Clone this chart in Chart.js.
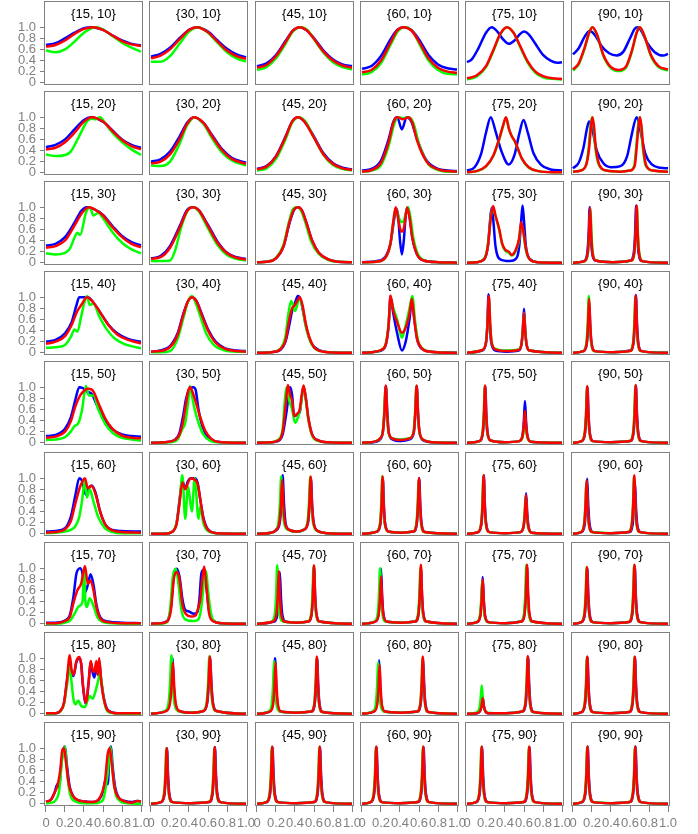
<!DOCTYPE html>
<html>
<head>
<meta charset="utf-8">
<script src="https://cdn.jsdelivr.net/npm/chart.js@4"></script>
<style>
  body { margin: 0; background: #fff; }
  #grid { position: relative; width: 698px; height: 834px; overflow: hidden; }
  #grid canvas { position: absolute; }
</style>
</head>
<body>
<div id="grid"></div>
<script>
var colAngles = [15, 30, 45, 60, 75, 90];
var rowAngles = [10, 20, 30, 40, 50, 60, 70, 80, 90];
var xTicks = [0, 0.2, 0.4, 0.6, 0.8, 1];
var xTickLabels = ["0", "0.2", "0.4", "0.6", "0.8", "1.0"];
var yTicks = [0, 0.2, 0.4, 0.6, 0.8, 1];
var yTickLabels = ["0", "0.2", "0.4", "0.6", "0.8", "1.0"];

// curves, one entry per panel, row by row: [x, y] pairs
var blueCurves = [
  // {15, 10}
  [[0,0.68],[0.1,0.71],[0.2,0.8],[0.3,0.9],[0.4,0.98],[0.48,1],[0.6,0.95],[0.7,0.85],[0.8,0.76],[0.9,0.7],[1,0.67]],
  // {30, 10}
  [[0,0.47],[0.1,0.52],[0.2,0.63],[0.3,0.8],[0.4,0.95],[0.48,1],[0.6,0.92],[0.7,0.76],[0.8,0.61],[0.9,0.51],[1,0.46]],
  // {45, 10}
  [[0,0.3],[0.1,0.35],[0.2,0.5],[0.3,0.75],[0.38,0.94],[0.45,1],[0.52,0.95],[0.6,0.8],[0.7,0.58],[0.8,0.42],[0.9,0.33],[1,0.3]],
  // {60, 10}
  [[0,0.25],[0.1,0.3],[0.2,0.48],[0.3,0.78],[0.37,0.95],[0.44,1],[0.52,0.95],[0.6,0.78],[0.7,0.5],[0.8,0.33],[0.9,0.26],[1,0.24]],
  // {75, 10}
  [[0,0.37],[0.05,0.42],[0.12,0.62],[0.2,0.9],[0.26,1],[0.32,0.92],[0.38,0.78],[0.44,0.7],[0.5,0.76],[0.56,0.88],[0.6,0.92],[0.65,0.87],[0.72,0.7],[0.8,0.5],[0.88,0.4],[0.95,0.36],[1,0.37]],
  // {90, 10}
  [[0,0.51],[0.06,0.62],[0.12,0.82],[0.175,0.93],[0.23,0.86],[0.3,0.66],[0.38,0.53],[0.46,0.49],[0.53,0.56],[0.6,0.8],[0.65,0.97],[0.68,1],[0.72,0.93],[0.78,0.72],[0.86,0.55],[0.95,0.49],[1,0.52]],
  // {15, 20}
  [[0,0.46],[0.1,0.5],[0.2,0.6],[0.3,0.78],[0.4,0.95],[0.47,1],[0.6,0.92],[0.7,0.76],[0.8,0.6],[0.9,0.5],[1,0.45]],
  // {30, 20}
  [[0,0.2],[0.1,0.24],[0.2,0.38],[0.3,0.65],[0.38,0.9],[0.45,1],[0.55,0.9],[0.65,0.66],[0.75,0.42],[0.85,0.27],[1,0.18]],
  // {45, 20}
  [[0,0.07],[0.1,0.12],[0.2,0.3],[0.3,0.65],[0.37,0.92],[0.43,1],[0.5,0.92],[0.6,0.65],[0.7,0.35],[0.8,0.17],[0.9,0.09],[1,0.06]],
  // {60, 20}
  [[0,0.04],[0.1,0.07],[0.2,0.22],[0.28,0.6],[0.33,0.92],[0.37,1],[0.42,0.78],[0.47,1],[0.52,0.92],[0.58,0.6],[0.68,0.22],[0.8,0.07],[0.9,0.04],[1,0.03]],
  // {75, 20}
  [[0,0.04],[0.08,0.1],[0.15,0.35],[0.2,0.72],[0.25,1],[0.3,0.75],[0.36,0.4],[0.44,0.15],[0.5,0.32],[0.55,0.7],[0.595,0.95],[0.64,0.72],[0.7,0.35],[0.78,0.14],[0.88,0.06],[1,0.04]],
  // {90, 20}
  [[0,0.08],[0.06,0.18],[0.11,0.45],[0.15,0.82],[0.17,0.92],[0.2,0.8],[0.25,0.4],[0.32,0.17],[0.4,0.1],[0.5,0.12],[0.57,0.3],[0.62,0.7],[0.67,1],[0.71,0.75],[0.76,0.35],[0.83,0.15],[0.92,0.09],[1,0.08]],
  // {15, 30}
  [[0,0.31],[0.1,0.34],[0.2,0.46],[0.3,0.72],[0.37,0.93],[0.43,1],[0.5,0.97],[0.6,0.86],[0.7,0.66],[0.8,0.48],[0.9,0.37],[1,0.31]],
  // {30, 30}
  [[0,0.08],[0.1,0.12],[0.2,0.3],[0.3,0.65],[0.38,0.95],[0.44,1],[0.5,0.95],[0.6,0.68],[0.7,0.38],[0.8,0.18],[0.9,0.1],[1,0.07]],
  // {45, 30}
  [[0,0.01],[0.1,0.02],[0.2,0.08],[0.28,0.3],[0.34,0.7],[0.39,0.95],[0.43,1],[0.47,0.95],[0.52,0.72],[0.58,0.4],[0.65,0.18],[0.75,0.06],[0.85,0.02],[1,0.01]],
  // {60, 30}
  [[0,0.01],[0.15,0.03],[0.25,0.12],[0.3,0.35],[0.34,0.8],[0.36,0.97],[0.38,0.85],[0.4,0.4],[0.42,0.15],[0.44,0.4],[0.46,0.85],[0.48,1],[0.5,0.85],[0.53,0.45],[0.58,0.15],[0.65,0.04],[0.8,0.01],[1,0]],
  // {75, 30}
  [[0,0],[0.1,0.01],[0.18,0.06],[0.22,0.3],[0.245,0.8],[0.26,0.99],[0.275,0.8],[0.3,0.3],[0.35,0.06],[0.45,0.03],[0.52,0.08],[0.55,0.3],[0.57,0.75],[0.585,1.03],[0.6,0.75],[0.62,0.3],[0.66,0.07],[0.75,0.01],[1,0]],
  // {90, 30}
  [[0,0],[0.116,0.03],[0.151,0.18],[0.164,0.5],[0.176,1.0],[0.188,0.5],[0.201,0.18],[0.236,0.04],[0.42,0.01],[0.605,0.04],[0.64,0.18],[0.653,0.5],[0.665,1.03],[0.677,0.5],[0.69,0.18],[0.725,0.03],[1,0]],
  // {15, 40}
  [[0,0.2],[0.1,0.23],[0.2,0.35],[0.27,0.55],[0.32,0.85],[0.35,1],[0.44,1],[0.5,0.9],[0.58,0.7],[0.66,0.5],[0.75,0.35],[0.85,0.26],[0.95,0.21],[1,0.2]],
  // {30, 40}
  [[0,0.02],[0.1,0.04],[0.2,0.12],[0.28,0.35],[0.34,0.7],[0.39,0.93],[0.43,1],[0.48,0.93],[0.53,0.72],[0.6,0.42],[0.68,0.2],[0.78,0.08],[0.9,0.04],[1,0.03]],
  // {45, 40}
  [[0,0],[0.15,0.01],[0.25,0.06],[0.3,0.2],[0.34,0.5],[0.37,0.75],[0.4,0.9],[0.43,1.02],[0.46,0.95],[0.49,0.7],[0.53,0.38],[0.58,0.15],[0.65,0.05],[0.75,0.01],[1,0]],
  // {60, 40}
  [[0,0],[0.1,0.01],[0.2,0.04],[0.25,0.14],[0.28,0.48],[0.3,1.0],[0.33,0.7],[0.37,0.35],[0.42,0.04],[0.46,0.2],[0.5,0.6],[0.525,0.93],[0.55,0.62],[0.58,0.25],[0.63,0.07],[0.72,0.02],[1,0]],
  // {75, 40}
  [[0,0],[0.16,0.04],[0.2,0.18],[0.214,0.5],[0.227,1.05],[0.24,0.5],[0.255,0.18],[0.3,0.04],[0.42,0.02],[0.54,0.04],[0.573,0.15],[0.587,0.4],[0.6,0.79],[0.613,0.4],[0.627,0.15],[0.66,0.04],[1,0]],
  // {90, 40}
  [[0,0],[0.11,0.03],[0.145,0.16],[0.158,0.45],[0.17,0.9],[0.182,0.45],[0.195,0.16],[0.23,0.03],[0.42,0.01],[0.602,0.04],[0.637,0.18],[0.65,0.52],[0.662,1.04],[0.674,0.52],[0.687,0.18],[0.722,0.03],[1,0]],
  // {15, 50}
  [[0,0.12],[0.1,0.14],[0.2,0.25],[0.26,0.45],[0.31,0.78],[0.35,1],[0.39,0.98],[0.43,0.92],[0.48,0.88],[0.53,0.7],[0.6,0.46],[0.7,0.24],[0.8,0.15],[0.9,0.12],[1,0.11]],
  // {30, 50}
  [[0,0],[0.15,0.01],[0.25,0.05],[0.3,0.18],[0.34,0.5],[0.37,0.8],[0.41,0.98],[0.445,1],[0.47,0.95],[0.5,0.6],[0.54,0.3],[0.6,0.1],[0.7,0.02],[1,0]],
  // {45, 50}
  [[0,0],[0.15,0.01],[0.22,0.03],[0.27,0.15],[0.31,0.55],[0.35,1.0],[0.37,0.85],[0.39,0.48],[0.42,0.5],[0.45,0.55],[0.47,0.8],[0.49,1.0],[0.51,0.85],[0.54,0.45],[0.58,0.15],[0.65,0.04],[0.75,0.01],[1,0]],
  // {60, 50}
  [[0,0],[0.15,0.02],[0.19,0.06],[0.22,0.2],[0.236,0.52],[0.252,1.02],[0.267,0.52],[0.282,0.18],[0.32,0.06],[0.41,0.03],[0.5,0.06],[0.545,0.18],[0.561,0.5],[0.576,1.02],[0.591,0.5],[0.606,0.18],[0.65,0.04],[0.75,0.01],[1,0]],
  // {75, 50}
  [[0,0],[0.13,0.03],[0.167,0.18],[0.18,0.5],[0.192,1.02],[0.204,0.5],[0.217,0.18],[0.25,0.04],[0.4,0.01],[0.55,0.03],[0.585,0.14],[0.598,0.38],[0.61,0.75],[0.622,0.38],[0.635,0.14],[0.67,0.02],[1,0]],
  // {90, 50}
  [[0,0],[0.092,0.03],[0.127,0.18],[0.14,0.5],[0.152,1.0],[0.164,0.5],[0.177,0.18],[0.212,0.03],[0.4,0.01],[0.602,0.03],[0.637,0.18],[0.65,0.5],[0.662,1.03],[0.674,0.5],[0.687,0.18],[0.722,0.03],[1,0]],
  // {15, 60}
  [[0,0.04],[0.1,0.05],[0.2,0.1],[0.26,0.3],[0.31,0.7],[0.35,1],[0.38,0.95],[0.42,0.7],[0.45,0.82],[0.48,0.87],[0.52,0.75],[0.57,0.4],[0.63,0.15],[0.7,0.07],[0.8,0.05],[1,0.04]],
  // {30, 60}
  [[0,0],[0.15,0],[0.22,0.03],[0.27,0.2],[0.3,0.6],[0.33,0.95],[0.36,0.82],[0.39,0.95],[0.42,1],[0.46,1],[0.49,0.92],[0.52,0.6],[0.55,0.3],[0.6,0.08],[0.7,0.01],[1,0]],
  // {45, 60}
  [[0,0],[0.15,0.02],[0.2,0.06],[0.24,0.2],[0.256,0.55],[0.27,1.05],[0.284,0.55],[0.3,0.2],[0.34,0.07],[0.42,0.04],[0.49,0.07],[0.537,0.2],[0.553,0.5],[0.567,1.0],[0.581,0.5],[0.597,0.2],[0.64,0.05],[0.75,0.01],[1,0]],
  // {60, 60}
  [[0,0],[0.159,0.04],[0.194,0.18],[0.207,0.5],[0.219,1.0],[0.231,0.5],[0.244,0.18],[0.28,0.04],[0.41,0.02],[0.542,0.04],[0.577,0.18],[0.59,0.5],[0.602,1.0],[0.614,0.5],[0.627,0.18],[0.662,0.03],[1,0]],
  // {75, 60}
  [[0,0],[0.117,0.03],[0.152,0.18],[0.165,0.5],[0.177,1.05],[0.189,0.5],[0.202,0.18],[0.237,0.03],[0.4,0.01],[0.562,0.03],[0.597,0.14],[0.61,0.37],[0.622,0.73],[0.634,0.37],[0.647,0.14],[0.682,0.02],[1,0]],
  // {90, 60}
  [[0,0],[0.089,0.03],[0.124,0.18],[0.137,0.5],[0.149,0.99],[0.161,0.5],[0.174,0.18],[0.209,0.03],[0.4,0.01],[0.592,0.03],[0.627,0.16],[0.64,0.45],[0.652,0.93],[0.664,0.45],[0.677,0.16],[0.712,0.03],[1,0]],
  // {15, 70}
  [[0,0.02],[0.1,0.02],[0.2,0.06],[0.25,0.15],[0.29,0.5],[0.32,0.9],[0.36,1.0],[0.39,0.85],[0.41,0.56],[0.44,0.7],[0.47,0.89],[0.5,0.7],[0.53,0.35],[0.57,0.12],[0.65,0.04],[0.8,0.02],[1,0.01]],
  // {30, 70}
  [[0,0],[0.1,0.01],[0.17,0.05],[0.21,0.3],[0.24,0.85],[0.27,0.99],[0.3,0.85],[0.33,0.45],[0.36,0.25],[0.4,0.22],[0.45,0.18],[0.49,0.22],[0.51,0.45],[0.53,0.9],[0.555,0.97],[0.58,0.7],[0.61,0.25],[0.65,0.06],[0.75,0.01],[1,0]],
  // {45, 70}
  [[0,0],[0.18,0.04],[0.215,0.18],[0.228,0.48],[0.24,0.93],[0.252,0.48],[0.265,0.18],[0.3,0.04],[0.42,0.02],[0.54,0.04],[0.575,0.18],[0.588,0.5],[0.6,1.02],[0.612,0.5],[0.625,0.18],[0.66,0.04],[1,0]],
  // {60, 70}
  [[0,0],[0.14,0.04],[0.175,0.18],[0.188,0.5],[0.2,0.99],[0.212,0.5],[0.225,0.18],[0.26,0.04],[0.41,0.02],[0.56,0.04],[0.595,0.18],[0.608,0.5],[0.62,1.0],[0.632,0.5],[0.645,0.18],[0.68,0.04],[1,0]],
  // {75, 70}
  [[0,0],[0.105,0.03],[0.14,0.15],[0.153,0.42],[0.165,0.84],[0.177,0.42],[0.19,0.15],[0.225,0.03],[0.4,0.01],[0.57,0.04],[0.605,0.18],[0.618,0.52],[0.63,1.04],[0.642,0.52],[0.655,0.18],[0.69,0.04],[1,0]],
  // {90, 70}
  [[0,0],[0.09,0.03],[0.125,0.18],[0.138,0.5],[0.15,1.0],[0.162,0.5],[0.175,0.18],[0.21,0.03],[0.4,0.01],[0.59,0.03],[0.625,0.18],[0.638,0.5],[0.65,1.04],[0.662,0.5],[0.675,0.18],[0.71,0.03],[1,0]],
  // {15, 80}
  [[0,0.01],[0.1,0.01],[0.15,0.05],[0.19,0.2],[0.22,0.58],[0.25,0.92],[0.27,0.72],[0.29,0.68],[0.32,0.93],[0.35,1.0],[0.37,0.9],[0.39,0.48],[0.42,0.18],[0.45,0.58],[0.47,0.93],[0.49,0.75],[0.51,0.65],[0.53,0.9],[0.545,0.7],[0.56,0.95],[0.58,0.62],[0.61,0.28],[0.65,0.07],[0.75,0.01],[1,0.01]],
  // {30, 80}
  [[0,0],[0.155,0.05],[0.195,0.2],[0.21,0.5],[0.225,1.0],[0.24,0.5],[0.255,0.2],[0.295,0.05],[0.42,0.02],[0.552,0.05],[0.592,0.2],[0.607,0.5],[0.622,1.0],[0.637,0.5],[0.652,0.2],[0.692,0.05],[1,0]],
  // {45, 80}
  [[0,0],[0.13,0.04],[0.165,0.18],[0.178,0.5],[0.19,1.0],[0.202,0.5],[0.215,0.18],[0.25,0.04],[0.41,0.02],[0.573,0.04],[0.608,0.18],[0.621,0.5],[0.633,1.0],[0.645,0.5],[0.658,0.18],[0.693,0.03],[1,0]],
  // {60, 80}
  [[0,0],[0.12,0.04],[0.155,0.17],[0.168,0.48],[0.18,0.96],[0.192,0.48],[0.205,0.17],[0.24,0.04],[0.41,0.02],[0.583,0.04],[0.618,0.18],[0.631,0.49],[0.643,0.98],[0.655,0.49],[0.668,0.18],[0.703,0.03],[1,0]],
  // {75, 80}
  [[0,0],[0.105,0.01],[0.14,0.06],[0.153,0.15],[0.165,0.3],[0.177,0.15],[0.19,0.06],[0.225,0.01],[0.41,0.01],[0.583,0.04],[0.618,0.18],[0.631,0.5],[0.643,1.02],[0.655,0.5],[0.668,0.18],[0.703,0.03],[1,0]],
  // {90, 80}
  [[0,0],[0.092,0.03],[0.127,0.18],[0.14,0.5],[0.152,1.02],[0.164,0.5],[0.177,0.18],[0.212,0.03],[0.4,0.01],[0.592,0.03],[0.627,0.18],[0.64,0.5],[0.652,1.02],[0.664,0.5],[0.677,0.18],[0.712,0.03],[1,0]],
  // {15, 90}
  [[0,0.04],[0.05,0.07],[0.09,0.2],[0.12,0.35],[0.14,0.3],[0.16,0.7],[0.18,0.95],[0.2,1.03],[0.22,0.7],[0.25,0.3],[0.29,0.13],[0.34,0.06],[0.42,0.04],[0.5,0.03],[0.56,0.08],[0.6,0.22],[0.63,0.45],[0.65,0.35],[0.67,0.95],[0.685,1.03],[0.7,0.7],[0.73,0.28],[0.77,0.1],[0.83,0.05],[0.9,0.03],[0.96,0.05],[1,0.04]],
  // {30, 90}
  [[0,0],[0.108,0.03],[0.143,0.18],[0.156,0.5],[0.168,1.0],[0.18,0.5],[0.193,0.18],[0.228,0.03],[0.42,0.01],[0.613,0.03],[0.648,0.18],[0.661,0.5],[0.673,1.02],[0.685,0.5],[0.698,0.18],[0.733,0.03],[1,0]],
  // {45, 90}
  [[0,0],[0.103,0.03],[0.138,0.18],[0.151,0.5],[0.163,1.02],[0.175,0.5],[0.188,0.18],[0.223,0.03],[0.41,0.01],[0.603,0.03],[0.638,0.18],[0.651,0.5],[0.663,1.02],[0.675,0.5],[0.688,0.18],[0.723,0.03],[1,0]],
  // {60, 90}
  [[0,0],[0.093,0.03],[0.128,0.18],[0.141,0.5],[0.153,1.02],[0.165,0.5],[0.178,0.18],[0.213,0.03],[0.4,0.01],[0.588,0.03],[0.623,0.18],[0.636,0.5],[0.648,1.02],[0.66,0.5],[0.673,0.18],[0.708,0.03],[1,0]],
  // {75, 90}
  [[0,0],[0.098,0.03],[0.133,0.18],[0.146,0.5],[0.158,1.02],[0.17,0.5],[0.183,0.18],[0.218,0.03],[0.41,0.01],[0.598,0.03],[0.633,0.18],[0.646,0.5],[0.658,1.02],[0.67,0.5],[0.683,0.18],[0.718,0.03],[1,0]],
  // {90, 90}
  [[0,0],[0.095,0.03],[0.13,0.18],[0.143,0.5],[0.155,1.03],[0.167,0.5],[0.18,0.18],[0.215,0.03],[0.41,0.01],[0.598,0.03],[0.633,0.18],[0.646,0.5],[0.658,1.03],[0.67,0.5],[0.683,0.18],[0.718,0.03],[1,0]]
];

var greenCurves = [
  // {15, 10}
  [[0,0.58],[0.1,0.55],[0.2,0.6],[0.3,0.74],[0.4,0.9],[0.52,1],[0.6,0.96],[0.7,0.84],[0.8,0.72],[0.9,0.63],[1,0.56]],
  // {30, 10}
  [[0,0.38],[0.1,0.38],[0.2,0.48],[0.3,0.7],[0.4,0.92],[0.5,1],[0.6,0.9],[0.7,0.72],[0.8,0.55],[0.9,0.44],[1,0.38]],
  // {45, 10}
  [[0,0.23],[0.1,0.28],[0.2,0.44],[0.3,0.7],[0.38,0.93],[0.46,1],[0.53,0.95],[0.6,0.78],[0.7,0.54],[0.8,0.37],[0.9,0.28],[1,0.24]],
  // {60, 10}
  [[0,0.15],[0.1,0.19],[0.2,0.35],[0.3,0.68],[0.38,0.93],[0.45,1],[0.53,0.93],[0.6,0.71],[0.7,0.4],[0.8,0.23],[0.9,0.16],[1,0.15]],
  // {75, 10}
  [[0,0.06],[0.1,0.11],[0.2,0.28],[0.28,0.58],[0.35,0.87],[0.42,1],[0.49,0.9],[0.56,0.64],[0.64,0.36],[0.72,0.18],[0.8,0.1],[0.9,0.07],[1,0.06]],
  // {90, 10}
  [[0,0.22],[0.06,0.33],[0.12,0.6],[0.17,0.9],[0.2,1],[0.25,0.87],[0.32,0.48],[0.4,0.26],[0.48,0.21],[0.56,0.28],[0.62,0.56],[0.67,0.9],[0.7,1],[0.75,0.85],[0.82,0.48],[0.9,0.28],[1,0.22]],
  // {15, 20}
  [[0,0.33],[0.1,0.3],[0.2,0.32],[0.26,0.38],[0.35,0.66],[0.43,0.92],[0.48,0.97],[0.52,0.96],[0.57,1.0],[0.62,0.9],[0.7,0.72],[0.8,0.55],[0.9,0.42],[1,0.32]],
  // {30, 20}
  [[0,0.13],[0.1,0.12],[0.2,0.2],[0.3,0.52],[0.38,0.85],[0.46,1],[0.55,0.88],[0.65,0.6],[0.75,0.36],[0.85,0.22],[1,0.13]],
  // {45, 20}
  [[0,0.04],[0.1,0.08],[0.2,0.25],[0.3,0.6],[0.37,0.9],[0.44,1],[0.51,0.92],[0.6,0.63],[0.7,0.32],[0.8,0.14],[0.9,0.07],[1,0.04]],
  // {60, 20}
  [[0,0.02],[0.1,0.04],[0.2,0.14],[0.28,0.48],[0.34,0.88],[0.38,1],[0.44,0.98],[0.49,1],[0.54,0.9],[0.6,0.52],[0.7,0.15],[0.8,0.05],[0.9,0.02],[1,0.02]],
  // {75, 20}
  [[0,0.01],[0.1,0.03],[0.2,0.11],[0.28,0.31],[0.34,0.6],[0.38,0.84],[0.41,0.99],[0.44,0.8],[0.47,0.66],[0.5,0.57],[0.53,0.45],[0.58,0.24],[0.65,0.09],[0.75,0.03],[0.9,0.01],[1,0.01]],
  // {90, 20}
  [[0,0.02],[0.08,0.04],[0.14,0.15],[0.165,0.45],[0.185,0.85],[0.2,1],[0.215,0.85],[0.235,0.45],[0.275,0.13],[0.35,0.04],[0.5,0.02],[0.6,0.04],[0.645,0.13],[0.665,0.45],[0.685,0.85],[0.7,1],[0.715,0.85],[0.735,0.45],[0.765,0.13],[0.84,0.04],[1,0.02]],
  // {15, 30}
  [[0,0.17],[0.1,0.15],[0.2,0.18],[0.25,0.25],[0.3,0.45],[0.33,0.54],[0.36,0.5],[0.42,0.9],[0.46,1.0],[0.5,0.85],[0.55,0.9],[0.6,0.8],[0.7,0.55],[0.8,0.36],[0.9,0.24],[1,0.17]],
  // {30, 30}
  [[0,0.03],[0.1,0.03],[0.2,0.04],[0.25,0.2],[0.32,0.65],[0.39,0.95],[0.44,1],[0.5,0.93],[0.6,0.62],[0.7,0.32],[0.8,0.14],[0.9,0.07],[1,0.04]],
  // {45, 30}
  [[0,0.01],[0.1,0.02],[0.2,0.09],[0.28,0.33],[0.34,0.76],[0.38,0.97],[0.42,1],[0.46,0.95],[0.51,0.72],[0.57,0.38],[0.65,0.16],[0.75,0.05],[0.85,0.02],[1,0.01]],
  // {60, 30}
  [[0,0.01],[0.15,0.02],[0.25,0.1],[0.3,0.34],[0.33,0.74],[0.355,0.98],[0.38,0.85],[0.4,0.76],[0.42,0.73],[0.445,0.78],[0.465,0.92],[0.485,1.0],[0.51,0.82],[0.54,0.45],[0.59,0.15],[0.66,0.04],[0.8,0.01],[1,0]],
  // {75, 30}
  [[0,0],[0.1,0.01],[0.18,0.07],[0.22,0.32],[0.25,0.82],[0.27,1.0],[0.3,0.84],[0.34,0.58],[0.37,0.33],[0.4,0.22],[0.44,0.18],[0.47,0.13],[0.51,0.2],[0.55,0.42],[0.57,0.7],[0.59,0.58],[0.62,0.23],[0.66,0.06],[0.75,0.01],[1,0]],
  // {90, 30}
  [[0,0],[0.123,0.03],[0.158,0.18],[0.171,0.5],[0.183,0.98],[0.195,0.5],[0.208,0.18],[0.243,0.04],[0.42,0.01],[0.612,0.04],[0.647,0.18],[0.66,0.5],[0.672,1.0],[0.684,0.5],[0.697,0.18],[0.732,0.03],[1,0]],
  // {15, 40}
  [[0,0.09],[0.1,0.1],[0.2,0.14],[0.26,0.28],[0.3,0.42],[0.33,0.38],[0.37,0.65],[0.4,0.88],[0.43,1.02],[0.46,0.86],[0.5,0.88],[0.56,0.66],[0.64,0.42],[0.72,0.26],[0.82,0.16],[0.92,0.11],[1,0.08]],
  // {30, 40}
  [[0,0.01],[0.1,0.01],[0.2,0.03],[0.28,0.25],[0.34,0.62],[0.39,0.92],[0.43,1.02],[0.47,0.9],[0.52,0.65],[0.58,0.35],[0.66,0.14],[0.76,0.05],[0.9,0.02],[1,0.02]],
  // {45, 40}
  [[0,0],[0.15,0.01],[0.25,0.08],[0.3,0.3],[0.33,0.7],[0.36,0.93],[0.4,0.75],[0.43,0.9],[0.45,0.98],[0.48,0.8],[0.51,0.5],[0.55,0.25],[0.6,0.09],[0.67,0.03],[0.75,0.01],[1,0]],
  // {60, 40}
  [[0,0],[0.1,0.01],[0.2,0.05],[0.25,0.16],[0.28,0.52],[0.3,0.98],[0.33,0.8],[0.37,0.6],[0.42,0.27],[0.46,0.5],[0.5,0.8],[0.53,1.02],[0.56,0.55],[0.59,0.22],[0.64,0.07],[0.72,0.02],[1,0]],
  // {75, 40}
  [[0,0],[0.16,0.05],[0.202,0.2],[0.216,0.52],[0.23,1.0],[0.244,0.52],[0.258,0.2],[0.3,0.07],[0.42,0.04],[0.54,0.06],[0.573,0.16],[0.587,0.38],[0.6,0.72],[0.613,0.38],[0.627,0.15],[0.66,0.04],[1,0]],
  // {90, 40}
  [[0,0],[0.106,0.03],[0.141,0.18],[0.154,0.52],[0.166,1.02],[0.178,0.52],[0.191,0.18],[0.226,0.03],[0.42,0.01],[0.597,0.03],[0.632,0.18],[0.645,0.5],[0.657,1.0],[0.669,0.5],[0.682,0.18],[0.717,0.03],[1,0]],
  // {15, 50}
  [[0,0.05],[0.1,0.06],[0.2,0.1],[0.26,0.2],[0.3,0.3],[0.34,0.35],[0.38,0.6],[0.42,1.02],[0.45,0.85],[0.5,0.85],[0.55,0.6],[0.62,0.35],[0.7,0.18],[0.8,0.09],[0.9,0.06],[1,0.04]],
  // {30, 50}
  [[0,0],[0.2,0.01],[0.28,0.06],[0.33,0.25],[0.36,0.35],[0.39,0.72],[0.41,1.02],[0.43,0.85],[0.46,0.6],[0.5,0.36],[0.55,0.15],[0.62,0.04],[0.7,0.01],[1,0]],
  // {45, 50}
  [[0,0],[0.15,0.01],[0.22,0.05],[0.27,0.25],[0.29,0.7],[0.31,1.0],[0.34,0.75],[0.37,0.6],[0.4,0.36],[0.43,0.45],[0.46,0.65],[0.49,1.0],[0.51,0.82],[0.54,0.42],[0.58,0.13],[0.65,0.03],[0.75,0.01],[1,0]],
  // {60, 50}
  [[0,0],[0.15,0.03],[0.19,0.08],[0.218,0.2],[0.233,0.52],[0.248,1.0],[0.263,0.52],[0.278,0.2],[0.32,0.08],[0.41,0.06],[0.5,0.08],[0.543,0.2],[0.558,0.52],[0.573,1.02],[0.588,0.52],[0.603,0.2],[0.65,0.05],[0.75,0.01],[1,0]],
  // {75, 50}
  [[0,0],[0.13,0.03],[0.163,0.18],[0.176,0.5],[0.188,1.02],[0.2,0.5],[0.213,0.18],[0.25,0.04],[0.4,0.01],[0.55,0.03],[0.585,0.1],[0.598,0.24],[0.61,0.45],[0.622,0.24],[0.635,0.1],[0.67,0.02],[1,0]],
  // {90, 50}
  [[0,0],[0.088,0.03],[0.123,0.18],[0.136,0.5],[0.148,1.0],[0.16,0.5],[0.173,0.18],[0.208,0.03],[0.4,0.01],[0.597,0.03],[0.632,0.18],[0.645,0.5],[0.657,1.02],[0.669,0.5],[0.682,0.18],[0.717,0.03],[1,0]],
  // {15, 60}
  [[0,0.01],[0.1,0.02],[0.2,0.04],[0.27,0.08],[0.31,0.14],[0.35,0.3],[0.38,0.6],[0.41,0.98],[0.43,0.65],[0.46,0.8],[0.5,0.58],[0.55,0.3],[0.62,0.1],[0.7,0.03],[0.8,0.01],[1,0.01]],
  // {30, 60}
  [[0,0],[0.15,0],[0.22,0.03],[0.27,0.2],[0.3,0.55],[0.33,1.05],[0.36,0.27],[0.39,0.85],[0.43,0.4],[0.46,1.0],[0.5,0.27],[0.52,0.5],[0.55,0.2],[0.6,0.05],[0.7,0.01],[1,0]],
  // {45, 60}
  [[0,0],[0.15,0.02],[0.2,0.07],[0.225,0.2],[0.241,0.54],[0.255,1.03],[0.269,0.54],[0.285,0.2],[0.33,0.07],[0.42,0.04],[0.49,0.07],[0.53,0.2],[0.546,0.52],[0.56,1.02],[0.574,0.52],[0.59,0.2],[0.635,0.05],[0.75,0.01],[1,0]],
  // {60, 60}
  [[0,0],[0.154,0.04],[0.189,0.18],[0.202,0.5],[0.214,1.04],[0.226,0.5],[0.239,0.18],[0.275,0.04],[0.41,0.02],[0.537,0.04],[0.572,0.18],[0.585,0.5],[0.597,0.98],[0.609,0.5],[0.622,0.18],[0.657,0.03],[1,0]],
  // {75, 60}
  [[0,0],[0.113,0.03],[0.148,0.18],[0.161,0.5],[0.173,1.03],[0.185,0.5],[0.198,0.18],[0.233,0.03],[0.4,0.01],[0.558,0.03],[0.593,0.13],[0.606,0.34],[0.618,0.68],[0.63,0.34],[0.643,0.13],[0.678,0.02],[1,0]],
  // {90, 60}
  [[0,0],[0.081,0.03],[0.116,0.17],[0.129,0.48],[0.141,0.95],[0.153,0.48],[0.166,0.17],[0.201,0.03],[0.4,0.01],[0.583,0.03],[0.618,0.18],[0.631,0.5],[0.643,1.03],[0.655,0.5],[0.668,0.18],[0.703,0.03],[1,0]],
  // {15, 70}
  [[0,0],[0.1,0],[0.2,0.02],[0.26,0.07],[0.3,0.18],[0.35,0.32],[0.385,0.4],[0.4,1.0],[0.415,0.4],[0.43,0.3],[0.46,0.46],[0.5,0.32],[0.54,0.12],[0.6,0.03],[0.7,0.01],[1,0]],
  // {30, 70}
  [[0,0],[0.1,0],[0.17,0.03],[0.2,0.25],[0.23,0.85],[0.26,0.99],[0.29,0.7],[0.32,0.25],[0.36,0.08],[0.45,0.05],[0.5,0.08],[0.53,0.3],[0.56,0.8],[0.58,0.95],[0.6,0.6],[0.63,0.2],[0.67,0.04],[0.75,0.01],[1,0]],
  // {45, 70}
  [[0,0],[0.153,0.04],[0.188,0.18],[0.201,0.5],[0.213,1.05],[0.225,0.5],[0.238,0.18],[0.273,0.04],[0.42,0.02],[0.535,0.04],[0.57,0.18],[0.583,0.5],[0.596,1.04],[0.608,0.5],[0.621,0.18],[0.656,0.04],[1,0]],
  // {60, 70}
  [[0,0],[0.13,0.04],[0.165,0.18],[0.178,0.5],[0.19,1.0],[0.202,0.5],[0.215,0.18],[0.25,0.04],[0.41,0.02],[0.555,0.04],[0.59,0.18],[0.603,0.5],[0.615,1.0],[0.627,0.5],[0.64,0.18],[0.675,0.04],[1,0]],
  // {75, 70}
  [[0,0],[0.1,0.03],[0.135,0.14],[0.148,0.39],[0.16,0.78],[0.172,0.39],[0.185,0.14],[0.22,0.03],[0.4,0.01],[0.565,0.04],[0.6,0.18],[0.613,0.52],[0.625,1.06],[0.637,0.52],[0.65,0.18],[0.685,0.04],[1,0]],
  // {90, 70}
  [[0,0],[0.084,0.03],[0.119,0.18],[0.132,0.5],[0.144,1.02],[0.156,0.5],[0.169,0.18],[0.204,0.03],[0.4,0.01],[0.584,0.03],[0.619,0.18],[0.632,0.52],[0.644,1.06],[0.656,0.52],[0.669,0.18],[0.704,0.03],[1,0]],
  // {15, 80}
  [[0,0],[0.1,0.01],[0.15,0.04],[0.19,0.18],[0.22,0.5],[0.25,0.85],[0.27,0.55],[0.29,0.25],[0.31,0.17],[0.34,0.24],[0.37,0.14],[0.41,0.12],[0.44,0.25],[0.46,0.32],[0.49,0.27],[0.52,0.4],[0.55,0.6],[0.57,0.74],[0.6,0.35],[0.63,0.1],[0.68,0.02],[1,0]],
  // {30, 80}
  [[0,0],[0.145,0.05],[0.185,0.2],[0.2,0.52],[0.215,1.05],[0.23,0.52],[0.245,0.2],[0.285,0.05],[0.42,0.02],[0.545,0.05],[0.585,0.2],[0.6,0.52],[0.615,1.04],[0.63,0.52],[0.645,0.2],[0.685,0.05],[1,0]],
  // {45, 80}
  [[0,0],[0.12,0.04],[0.155,0.17],[0.168,0.48],[0.18,0.95],[0.192,0.48],[0.205,0.17],[0.24,0.04],[0.41,0.02],[0.568,0.04],[0.603,0.18],[0.616,0.5],[0.628,1.0],[0.64,0.5],[0.653,0.18],[0.688,0.03],[1,0]],
  // {60, 80}
  [[0,0],[0.11,0.04],[0.145,0.17],[0.158,0.47],[0.17,0.93],[0.182,0.47],[0.195,0.17],[0.23,0.04],[0.41,0.02],[0.578,0.04],[0.613,0.18],[0.626,0.5],[0.638,1.0],[0.65,0.5],[0.663,0.18],[0.698,0.03],[1,0]],
  // {75, 80}
  [[0,0],[0.095,0.02],[0.13,0.1],[0.143,0.26],[0.155,0.51],[0.167,0.26],[0.18,0.1],[0.215,0.02],[0.41,0.01],[0.578,0.04],[0.613,0.18],[0.626,0.5],[0.638,1.02],[0.65,0.5],[0.663,0.18],[0.698,0.03],[1,0]],
  // {90, 80}
  [[0,0],[0.087,0.03],[0.122,0.18],[0.135,0.5],[0.147,1.02],[0.159,0.5],[0.172,0.18],[0.207,0.03],[0.4,0.01],[0.587,0.03],[0.622,0.18],[0.635,0.5],[0.647,1.02],[0.659,0.5],[0.672,0.18],[0.707,0.03],[1,0]],
  // {15, 90}
  [[0,0.01],[0.06,0.02],[0.1,0.06],[0.14,0.25],[0.17,0.8],[0.2,1.03],[0.22,0.6],[0.25,0.2],[0.3,0.05],[0.4,0.01],[0.5,0.01],[0.57,0.03],[0.61,0.12],[0.65,0.55],[0.68,1.02],[0.7,0.6],[0.73,0.2],[0.78,0.05],[0.85,0.01],[1,0]],
  // {30, 90}
  [[0,0],[0.102,0.03],[0.137,0.18],[0.15,0.5],[0.162,1.0],[0.174,0.5],[0.187,0.18],[0.222,0.03],[0.42,0.01],[0.607,0.03],[0.642,0.18],[0.655,0.5],[0.667,1.0],[0.679,0.5],[0.692,0.18],[0.727,0.03],[1,0]],
  // {45, 90}
  [[0,0],[0.097,0.03],[0.132,0.18],[0.145,0.5],[0.157,1.02],[0.169,0.5],[0.182,0.18],[0.217,0.03],[0.41,0.01],[0.597,0.03],[0.632,0.18],[0.645,0.5],[0.657,1.02],[0.669,0.5],[0.682,0.18],[0.717,0.03],[1,0]],
  // {60, 90}
  [[0,0],[0.087,0.03],[0.122,0.18],[0.135,0.5],[0.147,1.02],[0.159,0.5],[0.172,0.18],[0.207,0.03],[0.4,0.01],[0.582,0.03],[0.617,0.18],[0.63,0.5],[0.642,1.02],[0.654,0.5],[0.667,0.18],[0.702,0.03],[1,0]],
  // {75, 90}
  [[0,0],[0.092,0.03],[0.127,0.18],[0.14,0.5],[0.152,1.02],[0.164,0.5],[0.177,0.18],[0.212,0.03],[0.41,0.01],[0.592,0.03],[0.627,0.18],[0.64,0.5],[0.652,1.02],[0.664,0.5],[0.677,0.18],[0.712,0.03],[1,0]],
  // {90, 90}
  [[0,0],[0.09,0.03],[0.125,0.18],[0.138,0.5],[0.15,1.02],[0.162,0.5],[0.175,0.18],[0.21,0.03],[0.41,0.01],[0.593,0.03],[0.628,0.18],[0.641,0.5],[0.653,1.02],[0.665,0.5],[0.678,0.18],[0.713,0.03],[1,0]]
];

var redCurves = [
  // {15, 10}
  [[0,0.65],[0.1,0.68],[0.2,0.76],[0.3,0.88],[0.4,0.97],[0.5,1],[0.6,0.95],[0.7,0.85],[0.8,0.75],[0.9,0.69],[1,0.66]],
  // {30, 10}
  [[0,0.44],[0.1,0.49],[0.2,0.6],[0.3,0.78],[0.4,0.95],[0.48,1],[0.6,0.91],[0.7,0.74],[0.8,0.58],[0.9,0.48],[1,0.43]],
  // {45, 10}
  [[0,0.27],[0.1,0.32],[0.2,0.48],[0.3,0.73],[0.38,0.94],[0.45,1],[0.52,0.95],[0.6,0.79],[0.7,0.56],[0.8,0.4],[0.9,0.31],[1,0.27]],
  // {60, 10}
  [[0,0.19],[0.1,0.23],[0.2,0.4],[0.3,0.72],[0.37,0.94],[0.44,1],[0.52,0.94],[0.6,0.74],[0.7,0.44],[0.8,0.27],[0.9,0.2],[1,0.18]],
  // {75, 10}
  [[0,0.08],[0.1,0.13],[0.2,0.3],[0.28,0.6],[0.35,0.88],[0.42,1],[0.49,0.9],[0.56,0.66],[0.64,0.38],[0.72,0.2],[0.8,0.12],[0.9,0.08],[1,0.07]],
  // {90, 10}
  [[0,0.24],[0.06,0.35],[0.12,0.62],[0.17,0.9],[0.205,1],[0.25,0.88],[0.32,0.5],[0.4,0.28],[0.48,0.23],[0.56,0.3],[0.62,0.58],[0.67,0.9],[0.705,1],[0.75,0.85],[0.82,0.5],[0.9,0.3],[1,0.24]],
  // {15, 20}
  [[0,0.42],[0.1,0.45],[0.2,0.55],[0.3,0.72],[0.4,0.92],[0.48,1],[0.6,0.92],[0.7,0.75],[0.8,0.59],[0.9,0.48],[1,0.42]],
  // {30, 20}
  [[0,0.17],[0.1,0.2],[0.2,0.33],[0.3,0.6],[0.38,0.88],[0.45,1],[0.55,0.9],[0.65,0.64],[0.75,0.4],[0.85,0.25],[1,0.16]],
  // {45, 20}
  [[0,0.06],[0.1,0.11],[0.2,0.29],[0.3,0.64],[0.37,0.92],[0.43,1],[0.5,0.92],[0.6,0.63],[0.7,0.33],[0.8,0.16],[0.9,0.08],[1,0.05]],
  // {60, 20}
  [[0,0.02],[0.1,0.05],[0.2,0.18],[0.28,0.55],[0.33,0.9],[0.37,1],[0.43,0.96],[0.49,1],[0.53,0.9],[0.58,0.58],[0.68,0.2],[0.8,0.06],[0.9,0.03],[1,0.02]],
  // {75, 20}
  [[0,0.01],[0.1,0.03],[0.2,0.12],[0.28,0.32],[0.34,0.62],[0.38,0.85],[0.41,1],[0.44,0.8],[0.47,0.66],[0.5,0.58],[0.53,0.46],[0.58,0.25],[0.65,0.1],[0.75,0.03],[0.9,0.01],[1,0.01]],
  // {90, 20}
  [[0,0.02],[0.08,0.04],[0.14,0.15],[0.17,0.45],[0.19,0.85],[0.205,1],[0.22,0.85],[0.24,0.45],[0.28,0.13],[0.35,0.04],[0.5,0.02],[0.6,0.04],[0.65,0.13],[0.67,0.45],[0.69,0.85],[0.705,1],[0.72,0.85],[0.74,0.45],[0.77,0.13],[0.84,0.04],[1,0.02]],
  // {15, 30}
  [[0,0.27],[0.1,0.3],[0.2,0.4],[0.3,0.67],[0.38,0.9],[0.45,1],[0.52,0.95],[0.6,0.85],[0.7,0.64],[0.8,0.46],[0.9,0.34],[1,0.28]],
  // {30, 30}
  [[0,0.07],[0.1,0.1],[0.2,0.27],[0.3,0.62],[0.38,0.93],[0.44,1],[0.5,0.95],[0.6,0.66],[0.7,0.36],[0.8,0.17],[0.9,0.09],[1,0.06]],
  // {45, 30}
  [[0,0.01],[0.1,0.02],[0.2,0.08],[0.28,0.3],[0.34,0.72],[0.39,0.96],[0.43,1],[0.47,0.95],[0.52,0.72],[0.58,0.4],[0.65,0.18],[0.75,0.06],[0.85,0.02],[1,0.01]],
  // {60, 30}
  [[0,0.01],[0.15,0.02],[0.25,0.1],[0.3,0.35],[0.33,0.75],[0.355,1],[0.38,0.8],[0.4,0.62],[0.42,0.56],[0.445,0.65],[0.46,0.85],[0.475,0.99],[0.5,0.82],[0.53,0.45],[0.58,0.15],[0.65,0.04],[0.8,0.01],[1,0]],
  // {75, 30}
  [[0,0],[0.1,0.01],[0.18,0.06],[0.22,0.3],[0.25,0.8],[0.275,1.02],[0.3,0.85],[0.34,0.6],[0.37,0.35],[0.4,0.24],[0.44,0.2],[0.47,0.14],[0.51,0.22],[0.55,0.45],[0.57,0.73],[0.59,0.6],[0.62,0.25],[0.66,0.06],[0.75,0.01],[1,0]],
  // {90, 30}
  [[0,0],[0.12,0.03],[0.155,0.18],[0.168,0.5],[0.18,0.99],[0.192,0.5],[0.205,0.18],[0.24,0.04],[0.42,0.01],[0.61,0.04],[0.645,0.18],[0.658,0.5],[0.67,1.03],[0.682,0.5],[0.695,0.18],[0.73,0.03],[1,0]],
  // {15, 40}
  [[0,0.16],[0.1,0.2],[0.2,0.3],[0.27,0.5],[0.33,0.75],[0.38,0.88],[0.43,1],[0.5,0.9],[0.58,0.7],[0.66,0.49],[0.75,0.33],[0.85,0.24],[0.95,0.19],[1,0.17]],
  // {30, 40}
  [[0,0.02],[0.1,0.03],[0.2,0.1],[0.28,0.32],[0.34,0.68],[0.39,0.93],[0.43,1],[0.48,0.92],[0.53,0.7],[0.6,0.4],[0.68,0.18],[0.78,0.07],[0.9,0.03],[1,0.02]],
  // {45, 40}
  [[0,0],[0.15,0.01],[0.25,0.07],[0.3,0.22],[0.34,0.6],[0.37,0.8],[0.4,0.86],[0.43,0.95],[0.45,1],[0.48,0.85],[0.51,0.55],[0.55,0.28],[0.6,0.1],[0.67,0.03],[0.75,0.01],[1,0]],
  // {60, 40}
  [[0,0],[0.1,0.01],[0.2,0.05],[0.25,0.15],[0.28,0.5],[0.3,1.03],[0.33,0.75],[0.37,0.55],[0.42,0.36],[0.46,0.45],[0.5,0.7],[0.525,0.97],[0.55,0.6],[0.58,0.25],[0.63,0.08],[0.72,0.02],[1,0]],
  // {75, 40}
  [[0,0],[0.16,0.05],[0.202,0.2],[0.216,0.52],[0.23,1.02],[0.244,0.52],[0.258,0.2],[0.3,0.06],[0.42,0.03],[0.54,0.05],[0.573,0.15],[0.587,0.38],[0.6,0.72],[0.613,0.38],[0.627,0.15],[0.66,0.04],[1,0]],
  // {90, 40}
  [[0,0],[0.11,0.03],[0.145,0.18],[0.158,0.5],[0.17,0.97],[0.182,0.5],[0.195,0.18],[0.23,0.03],[0.42,0.01],[0.6,0.03],[0.635,0.18],[0.648,0.5],[0.66,1.03],[0.672,0.5],[0.685,0.18],[0.72,0.03],[1,0]],
  // {15, 50}
  [[0,0.09],[0.1,0.11],[0.2,0.2],[0.26,0.38],[0.31,0.66],[0.36,0.85],[0.41,0.95],[0.45,0.97],[0.5,0.92],[0.55,0.72],[0.62,0.45],[0.7,0.25],[0.8,0.13],[0.9,0.09],[1,0.08]],
  // {30, 50}
  [[0,0],[0.15,0.01],[0.25,0.05],[0.3,0.15],[0.34,0.4],[0.37,0.72],[0.39,0.92],[0.41,1],[0.44,0.9],[0.48,0.68],[0.52,0.45],[0.57,0.22],[0.63,0.08],[0.7,0.02],[1,0]],
  // {45, 50}
  [[0,0],[0.15,0.01],[0.22,0.04],[0.27,0.2],[0.3,0.65],[0.325,1.04],[0.35,0.85],[0.37,0.75],[0.39,0.48],[0.42,0.52],[0.45,0.6],[0.47,0.85],[0.49,1.03],[0.51,0.85],[0.54,0.45],[0.58,0.15],[0.65,0.04],[0.75,0.01],[1,0]],
  // {60, 50}
  [[0,0],[0.15,0.03],[0.19,0.08],[0.22,0.2],[0.235,0.52],[0.25,1.03],[0.265,0.52],[0.28,0.2],[0.32,0.08],[0.41,0.05],[0.5,0.08],[0.545,0.2],[0.56,0.52],[0.575,1.03],[0.59,0.52],[0.605,0.2],[0.65,0.05],[0.75,0.01],[1,0]],
  // {75, 50}
  [[0,0],[0.13,0.03],[0.165,0.18],[0.178,0.5],[0.19,1.03],[0.202,0.5],[0.215,0.18],[0.25,0.04],[0.4,0.01],[0.55,0.03],[0.585,0.12],[0.598,0.3],[0.61,0.57],[0.622,0.3],[0.635,0.12],[0.67,0.02],[1,0]],
  // {90, 50}
  [[0,0],[0.09,0.03],[0.125,0.18],[0.138,0.5],[0.15,1.02],[0.162,0.5],[0.175,0.18],[0.21,0.03],[0.4,0.01],[0.6,0.03],[0.635,0.18],[0.648,0.5],[0.66,1.04],[0.672,0.5],[0.685,0.18],[0.72,0.03],[1,0]],
  // {15, 60}
  [[0,0.02],[0.1,0.03],[0.2,0.08],[0.26,0.22],[0.31,0.55],[0.36,0.85],[0.41,1],[0.44,0.82],[0.48,0.86],[0.52,0.72],[0.57,0.4],[0.63,0.15],[0.7,0.06],[0.8,0.03],[1,0.02]],
  // {30, 60}
  [[0,0],[0.15,0],[0.22,0.03],[0.27,0.18],[0.3,0.55],[0.33,0.92],[0.36,0.8],[0.39,0.92],[0.42,1],[0.45,0.98],[0.49,0.9],[0.52,0.6],[0.55,0.28],[0.6,0.07],[0.7,0.01],[1,0]],
  // {45, 60}
  [[0,0],[0.15,0.02],[0.2,0.07],[0.235,0.2],[0.251,0.5],[0.265,0.97],[0.279,0.5],[0.295,0.2],[0.34,0.07],[0.42,0.04],[0.49,0.07],[0.535,0.2],[0.551,0.52],[0.565,1.03],[0.579,0.52],[0.595,0.2],[0.64,0.05],[0.75,0.01],[1,0]],
  // {60, 60}
  [[0,0],[0.157,0.04],[0.192,0.18],[0.205,0.5],[0.217,1.03],[0.229,0.5],[0.242,0.18],[0.28,0.04],[0.41,0.02],[0.54,0.04],[0.575,0.18],[0.588,0.5],[0.6,1.0],[0.612,0.5],[0.625,0.18],[0.66,0.03],[1,0]],
  // {75, 60}
  [[0,0],[0.115,0.03],[0.15,0.18],[0.163,0.5],[0.175,1.05],[0.187,0.5],[0.2,0.18],[0.235,0.03],[0.4,0.01],[0.56,0.03],[0.595,0.13],[0.608,0.35],[0.62,0.7],[0.632,0.35],[0.645,0.13],[0.68,0.02],[1,0]],
  // {90, 60}
  [[0,0],[0.083,0.03],[0.118,0.17],[0.131,0.48],[0.143,0.96],[0.155,0.48],[0.168,0.17],[0.203,0.03],[0.4,0.01],[0.585,0.03],[0.62,0.18],[0.633,0.52],[0.645,1.05],[0.657,0.52],[0.67,0.18],[0.705,0.03],[1,0]],
  // {15, 70}
  [[0,0.01],[0.1,0.01],[0.2,0.05],[0.25,0.12],[0.29,0.38],[0.33,0.6],[0.37,0.72],[0.41,1.04],[0.44,0.72],[0.47,0.78],[0.5,0.6],[0.53,0.3],[0.57,0.1],[0.65,0.03],[0.8,0.01],[1,0.01]],
  // {30, 70}
  [[0,0],[0.1,0.01],[0.17,0.04],[0.21,0.25],[0.24,0.8],[0.27,0.93],[0.3,0.8],[0.33,0.35],[0.37,0.17],[0.42,0.13],[0.47,0.15],[0.5,0.3],[0.52,0.45],[0.54,0.8],[0.56,1.03],[0.585,0.65],[0.61,0.2],[0.65,0.05],[0.75,0.01],[1,0]],
  // {45, 70}
  [[0,0],[0.17,0.04],[0.205,0.18],[0.218,0.48],[0.23,0.95],[0.242,0.48],[0.255,0.18],[0.29,0.04],[0.42,0.02],[0.54,0.04],[0.575,0.18],[0.588,0.5],[0.6,1.05],[0.612,0.5],[0.625,0.18],[0.66,0.04],[1,0]],
  // {60, 70}
  [[0,0],[0.14,0.04],[0.175,0.16],[0.188,0.43],[0.2,0.85],[0.212,0.43],[0.225,0.16],[0.26,0.04],[0.41,0.02],[0.56,0.04],[0.595,0.18],[0.608,0.52],[0.62,1.06],[0.632,0.52],[0.645,0.18],[0.68,0.04],[1,0]],
  // {75, 70}
  [[0,0],[0.105,0.03],[0.14,0.14],[0.153,0.4],[0.165,0.8],[0.177,0.4],[0.19,0.14],[0.225,0.03],[0.4,0.01],[0.572,0.04],[0.607,0.18],[0.62,0.52],[0.632,1.06],[0.644,0.52],[0.657,0.18],[0.692,0.04],[1,0]],
  // {90, 70}
  [[0,0],[0.087,0.03],[0.122,0.18],[0.135,0.5],[0.147,1.02],[0.159,0.5],[0.172,0.18],[0.207,0.03],[0.4,0.01],[0.587,0.03],[0.622,0.18],[0.635,0.52],[0.647,1.06],[0.659,0.52],[0.672,0.18],[0.707,0.03],[1,0]],
  // {15, 80}
  [[0,0.01],[0.1,0.01],[0.15,0.05],[0.19,0.2],[0.22,0.6],[0.25,1.05],[0.27,0.78],[0.29,0.7],[0.32,0.95],[0.35,1.02],[0.37,0.9],[0.39,0.5],[0.42,0.2],[0.45,0.6],[0.47,0.95],[0.49,0.8],[0.51,0.75],[0.53,0.95],[0.545,0.7],[0.56,1.0],[0.58,0.6],[0.61,0.25],[0.65,0.06],[0.75,0.01],[1,0.01]],
  // {30, 80}
  [[0,0],[0.16,0.05],[0.2,0.19],[0.215,0.47],[0.23,0.92],[0.245,0.47],[0.26,0.19],[0.3,0.05],[0.42,0.02],[0.55,0.05],[0.59,0.2],[0.605,0.52],[0.62,1.03],[0.635,0.52],[0.65,0.2],[0.69,0.05],[1,0]],
  // {45, 80}
  [[0,0],[0.135,0.04],[0.17,0.17],[0.183,0.46],[0.195,0.92],[0.207,0.46],[0.22,0.17],[0.255,0.04],[0.41,0.02],[0.57,0.04],[0.605,0.18],[0.618,0.52],[0.63,1.03],[0.642,0.52],[0.655,0.18],[0.69,0.03],[1,0]],
  // {60, 80}
  [[0,0],[0.125,0.04],[0.16,0.16],[0.173,0.44],[0.185,0.88],[0.197,0.44],[0.21,0.16],[0.245,0.04],[0.41,0.02],[0.58,0.04],[0.615,0.18],[0.628,0.52],[0.64,1.03],[0.652,0.52],[0.665,0.18],[0.7,0.03],[1,0]],
  // {75, 80}
  [[0,0],[0.105,0.01],[0.14,0.06],[0.153,0.14],[0.165,0.28],[0.177,0.14],[0.19,0.06],[0.225,0.01],[0.41,0.01],[0.58,0.04],[0.615,0.18],[0.628,0.52],[0.64,1.04],[0.652,0.52],[0.665,0.18],[0.7,0.03],[1,0]],
  // {90, 80}
  [[0,0],[0.09,0.03],[0.125,0.18],[0.138,0.5],[0.15,1.03],[0.162,0.5],[0.175,0.18],[0.21,0.03],[0.4,0.01],[0.59,0.03],[0.625,0.18],[0.638,0.5],[0.65,1.03],[0.662,0.5],[0.675,0.18],[0.71,0.03],[1,0]],
  // {15, 90}
  [[0,0.04],[0.05,0.07],[0.09,0.2],[0.12,0.32],[0.15,0.6],[0.17,0.95],[0.19,1.0],[0.21,0.75],[0.24,0.35],[0.28,0.15],[0.33,0.07],[0.4,0.04],[0.48,0.03],[0.55,0.07],[0.59,0.2],[0.62,0.4],[0.65,0.9],[0.67,1.0],[0.69,0.75],[0.72,0.3],[0.76,0.12],[0.82,0.05],[0.9,0.02],[0.96,0.05],[1,0.04]],
  // {30, 90}
  [[0,0],[0.105,0.03],[0.14,0.18],[0.153,0.5],[0.165,1.0],[0.177,0.5],[0.19,0.18],[0.225,0.03],[0.42,0.01],[0.61,0.03],[0.645,0.18],[0.658,0.5],[0.67,1.02],[0.682,0.5],[0.695,0.18],[0.73,0.03],[1,0]],
  // {45, 90}
  [[0,0],[0.1,0.03],[0.135,0.18],[0.148,0.5],[0.16,1.03],[0.172,0.5],[0.185,0.18],[0.22,0.03],[0.41,0.01],[0.6,0.03],[0.635,0.18],[0.648,0.5],[0.66,1.03],[0.672,0.5],[0.685,0.18],[0.72,0.03],[1,0]],
  // {60, 90}
  [[0,0],[0.09,0.03],[0.125,0.18],[0.138,0.5],[0.15,1.03],[0.162,0.5],[0.175,0.18],[0.21,0.03],[0.4,0.01],[0.585,0.03],[0.62,0.18],[0.633,0.5],[0.645,1.03],[0.657,0.5],[0.67,0.18],[0.705,0.03],[1,0]],
  // {75, 90}
  [[0,0],[0.095,0.03],[0.13,0.18],[0.143,0.5],[0.155,1.03],[0.167,0.5],[0.18,0.18],[0.215,0.03],[0.41,0.01],[0.595,0.03],[0.63,0.18],[0.643,0.5],[0.655,1.03],[0.667,0.5],[0.68,0.18],[0.715,0.03],[1,0]],
  // {90, 90}
  [[0,0],[0.092,0.03],[0.127,0.18],[0.14,0.5],[0.152,1.03],[0.164,0.5],[0.177,0.18],[0.212,0.03],[0.41,0.01],[0.595,0.03],[0.63,0.18],[0.643,0.5],[0.655,1.03],[0.667,0.5],[0.68,0.18],[0.715,0.03],[1,0]]
];

// panel geometry (frame box) and margins around it
var FRAME_W = 99, FRAME_H = 84;
var ML = 44, MR = 14, MT = 3, MB = 30;
var X_MIN = -0.021, X_MAX = 1.021, Y_MIN = -0.04, Y_MAX = 1.47;
var GRAY = "#808080";
var FONT = "'Liberation Sans', Arial, Helvetica, sans-serif";

Chart.defaults.font.family = FONT;

// box around the plot + the "{a, b}" label inside it
var framePlugin = {
  id: "frame",
  afterDatasetsDraw: function (chart, args, opts) {
    var a = chart.chartArea, ctx = chart.ctx;
    ctx.save();
    ctx.strokeStyle = GRAY;
    ctx.lineWidth = 1;
    ctx.strokeRect(a.left + 0.5, a.top + 0.5, a.right - a.left - 1, a.bottom - a.top - 1);
    ctx.fillStyle = "#000";
    ctx.font = "13px " + FONT;
    ctx.textAlign = "center";
    ctx.textBaseline = "middle";
    ctx.fillText(opts.title, (a.left + a.right) / 2, a.top + 13);
    ctx.restore();
  }
};
Chart.register(framePlugin);

function toPoints(list) {
  return list.map(function (p) { return { x: p[0], y: p[1] }; });
}

function line(list, color) {
  return {
    data: toPoints(list),
    borderColor: color,
    borderWidth: 2.5,
    pointRadius: 0,
    fill: false,
    cubicInterpolationMode: "monotone"
  };
}

var grid = document.getElementById("grid");

for (var r = 0; r < rowAngles.length; r++) {
  for (var c = 0; c < colAngles.length; c++) {
    var k = r * colAngles.length + c;
    var bottomRow = r === rowAngles.length - 1;
    var firstCol = c === 0;

    var canvas = document.createElement("canvas");
    canvas.width = ML + FRAME_W + MR;
    canvas.height = MT + FRAME_H + MB;
    canvas.style.left = (Math.round(44 + 105.3 * c) - ML) + "px";
    canvas.style.top = (Math.round(1 + 90.1 * r) - MT) + "px";
    grid.appendChild(canvas);

    var xScale = {
      type: "linear",
      min: X_MIN,
      max: X_MAX,
      display: bottomRow,
      afterBuildTicks: function (s) { s.ticks = xTicks.map(function (v) { return { value: v }; }); },
      ticks: {
        autoSkip: false,
        maxRotation: 0,
        color: GRAY,
        font: { size: 13 },
        padding: 4,
        callback: function (v, i) { return xTickLabels[i]; }
      },
      grid: { drawOnChartArea: false, drawTicks: true, tickLength: 6, color: GRAY },
      border: { display: false }
    };
    if (bottomRow) {
      xScale.afterFit = function (s) { s.height = MB; s.paddingLeft = 0; s.paddingRight = 0; };
    }

    // Chart.js paints the first dataset last, so red goes first to sit on top
    new Chart(canvas, {
      type: "line",
      data: {
        datasets: [
          line(redCurves[k], "#ff0000"),
          line(greenCurves[k], "#00ff00"),
          line(blueCurves[k], "#0000ff")
        ]
      },
      options: {
        responsive: false,
        animation: false,
        devicePixelRatio: 1,
        events: [],
        layout: { padding: { left: 0, right: MR, top: MT, bottom: bottomRow ? 0 : MB } },
        scales: {
          x: xScale,
          y: {
            type: "linear",
            min: Y_MIN,
            max: Y_MAX,
            afterBuildTicks: function (s) { s.ticks = yTicks.map(function (v) { return { value: v }; }); },
            afterFit: function (s) { s.width = ML; s.paddingTop = 0; s.paddingBottom = 0; },
            ticks: {
              display: firstCol,
              autoSkip: false,
              color: GRAY,
              font: { size: 13 },
              padding: 4,
              callback: function (v, i) { return yTickLabels[i]; }
            },
            grid: { display: firstCol, drawOnChartArea: false, tickLength: 4, color: GRAY },
            border: { display: false }
          }
        },
        plugins: {
          legend: { display: false },
          tooltip: { enabled: false },
          frame: { title: "{" + colAngles[c] + ", " + rowAngles[r] + "}" }
        }
      }
    });
  }
}
</script>
</body>
</html>
